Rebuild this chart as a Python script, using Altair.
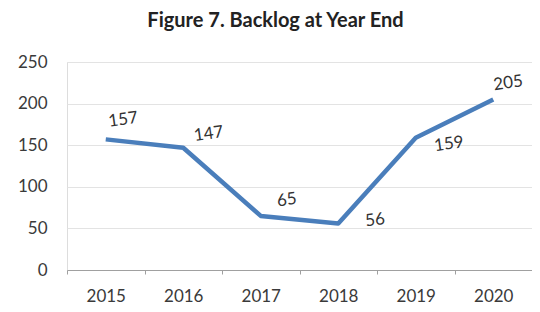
import altair as alt
import pandas as pd

years = ["2015", "2016", "2017", "2018", "2019", "2020"]
backlog = [157, 147, 65, 56, 159, 205]
y_ticks = [0, 50, 100, 150, 200, 250]

df = pd.DataFrame({"year": years, "backlog": backlog})

FONT = "Lato"
LINE_COLOR = "#4a7ebb"

x_enc = alt.X("year:N", sort=years,
              scale=alt.Scale(paddingInner=0, paddingOuter=0),
              axis=alt.Axis(title=None, labelAngle=0, labelFontSize=17, labelColor="#3a3a3a",
                            labelFont=FONT, labelPadding=14, tickSize=4, tickColor="#a0a0a0",
                            domainColor="#a0a0a0", tickBand="extent", grid=False))
y_enc = alt.Y("backlog:Q",
              scale=alt.Scale(domain=[0, 250], nice=False),
              axis=alt.Axis(title=None, values=y_ticks, labelFontSize=17, labelColor="#3a3a3a",
                            labelFont=FONT, labelPadding=20, ticks=False, domain=False,
                            grid=True, gridColor="#e3e3e3", gridWidth=1))

line = alt.Chart(df).mark_line(color=LINE_COLOR, strokeWidth=4.5, strokeJoin="round").encode(
    x=x_enc, y=y_enc)

label_offsets = {
    "2015": (20, -17),
    "2016": (27, -10),
    "2017": (28, -12),
    "2018": (37, 2),
    "2019": (32, 11),
    "2020": (17, -14),
}

layers = [line]
for yr, (dx, dy) in label_offsets.items():
    layers.append(
        alt.Chart(df).transform_filter(alt.datum.year == yr).mark_text(
            dx=dx, dy=dy, fontSize=17, font=FONT, color="#333333", angle=352
        ).encode(x=alt.X("year:N", sort=years), y="backlog:Q", text="backlog:Q")
    )

chart = alt.layer(*layers).properties(
    width=465, height=208,
    padding={"left": 59, "top": 54, "right": 0, "bottom": 34},
    autosize=alt.AutoSizeParams(type="none"),
    title=alt.TitleParams("Figure 7. Backlog at Year End", font=FONT, fontSize=20,
                          fontWeight="bold", color="#222222", anchor="middle",
                          dx=-24, offset=22),
).configure_view(stroke=None).configure(background="white")

chart.save("out.html", embed_options={"renderer": "svg", "actions": False})
